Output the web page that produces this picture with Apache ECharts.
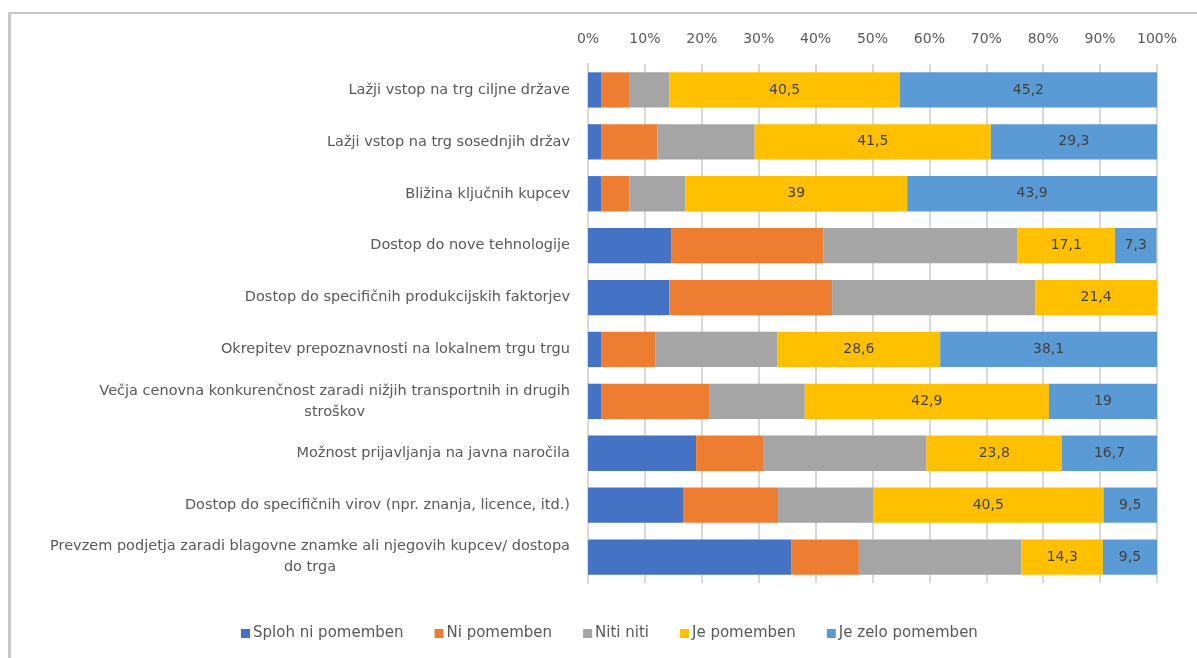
<!DOCTYPE html>
<html>
<head>
<meta charset="utf-8">
<script src="https://cdn.jsdelivr.net/npm/echarts@6/dist/echarts.min.js"></script>
<style>
    html, body { margin: 0; padding: 0; background: #fff; }
    .frame {
        position: absolute; left: 8px; top: 12px; right: 0; bottom: 0;
        border-top: 2px solid #c8c8c8; border-left: 3px solid #c8c8c8;
    }
    #myEcharts { position: absolute; left: 0; top: 0; width: 1197px; height: 658px; }
</style>
</head>
<body>
<div class="frame"></div>
<div id="myEcharts"></div>
<script>
    // kategorije (od zgoraj navzdol)
    var categories = [
        'Lažji vstop na trg ciljne države',
        'Lažji vstop na trg sosednjih držav',
        'Bližina ključnih kupcev',
        'Dostop do nove tehnologije',
        'Dostop do specifičnih produkcijskih faktorjev',
        'Okrepitev prepoznavnosti na lokalnem trgu trgu',
        'Večja cenovna konkurenčnost zaradi nižjih transportnih in drugih\nstroškov',
        'Možnost prijavljanja na javna naročila',
        'Dostop do specifičnih virov (npr. znanja, licence, itd.)',
        'Prevzem podjetja zaradi blagovne znamke ali njegovih kupcev/ dostopa\ndo trga'
    ];
    var seriesNames = ['Sploh ni pomemben', 'Ni pomemben', 'Niti niti', 'Je pomemben', 'Je zelo pomemben'];
    var colors = ['#4472c4', '#ed7d31', '#a5a5a5', '#ffc000', '#5b9bd5'];

    // deleži v %
    var splohNi = [2.4, 2.4, 2.4, 14.6, 14.3, 2.4, 2.4, 19.0, 16.7, 35.7];
    var niPom   = [4.8, 9.8, 4.9, 26.8, 28.6, 9.5, 19.0, 11.9, 16.7, 11.9];
    var nitiNiti = [7.1, 17.1, 9.8, 34.1, 35.7, 21.4, 16.7, 28.6, 16.7, 28.6];
    var jePom   = [40.5, 41.5, 39, 17.1, 21.4, 28.6, 42.9, 23.8, 40.5, 14.3];
    var jeZelo  = [45.2, 29.3, 43.9, 7.3, 0, 38.1, 19, 16.7, 9.5, 9.5];
    var xTicks = [0, 10, 20, 30, 40, 50, 60, 70, 80, 90, 100];

    var allData = [splohNi, niPom, nitiNiti, jePom, jeZelo];
    var font = 'DejaVu Sans';

    function makeSeries(i) {
        var showLabel = i >= 3;
        return {
            name: seriesNames[i],
            type: 'bar',
            stack: 'total',
            barCategoryGap: '32%',
            data: allData[i],
            itemStyle: { color: colors[i] },
            label: {
                show: showLabel,
                position: 'inside',
                color: '#404040',
                fontSize: 14,
                fontFamily: font,
                formatter: function (p) {
                    if (!p.value) return '';
                    return String(p.value).replace('.', ',');
                }
            }
        };
    }

    var chart = echarts.init(document.getElementById('myEcharts'));
    chart.setOption({
        animation: false,
        textStyle: { fontFamily: font },
        grid: { left: 588, right: 40, top: 64, bottom: 75, containLabel: false },
        legend: {
            bottom: 12,
            left: 236,
            itemWidth: 9,
            itemHeight: 9,
            itemGap: 31,
            icon: 'rect',
            textStyle: { color: '#595959', fontSize: 15, fontFamily: font, padding: [0, 0, 0, -2] },
            data: seriesNames
        },
        xAxis: {
            type: 'value',
            position: 'top',
            min: xTicks[0],
            max: xTicks[xTicks.length - 1],
            interval: 10,
            axisLine: { show: false },
            axisTick: { show: false },
            axisLabel: {
                color: '#595959',
                fontSize: 14,
                fontFamily: font,
                margin: 18,
                formatter: '{value}%'
            },
            splitLine: { lineStyle: { color: '#d9d9d9', width: 2 } }
        },
        yAxis: {
            type: 'category',
            inverse: true,
            data: categories,
            axisLine: { lineStyle: { color: '#d9d9d9', width: 2 } },
            axisTick: { show: false },
            axisLabel: {
                color: '#595959',
                fontSize: 14.5,
                margin: 18,
                align: 'right',
                formatter: function (v) {
                    return v.split('\n').map(function (l) { return '{c|' + l + '}'; }).join('\n');
                },
                rich: {
                    c: { align: 'center', color: '#595959', fontSize: 14.5, lineHeight: 21, fontFamily: font }
                }
            }
        },
        series: [0, 1, 2, 3, 4].map(makeSeries)
    });
</script>
</body>
</html>
